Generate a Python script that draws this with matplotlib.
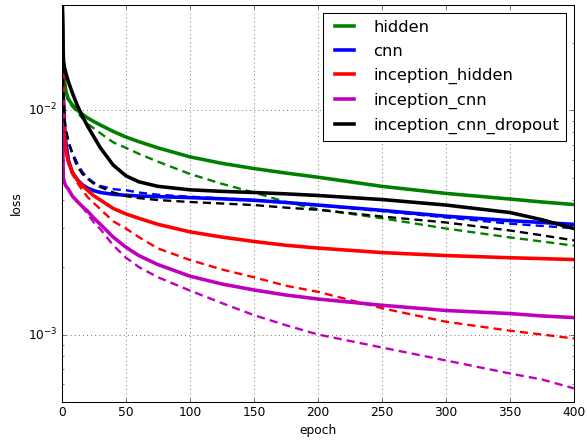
import matplotlib
matplotlib.use('Agg')
import matplotlib.pyplot as plt

plt.style.use('classic')
plt.rcParams['lines.scale_dashes'] = False

epochs = [0, 1, 2, 3, 5, 8, 12, 16, 20, 25, 30, 40, 50, 60, 75, 100,
          125, 150, 175, 200, 250, 300, 350, 375, 400]

# training loss (solid)
hidden_train = [3.5e-2, 1.8e-2, 1.35e-2, 1.22e-2, 1.12e-2, 1.06e-2, 1.0e-2, 9.6e-3,
                9.25e-3, 8.9e-3, 8.6e-3, 8.05e-3, 7.6e-3, 7.25e-3, 6.8e-3, 6.2e-3,
                5.8e-3, 5.5e-3, 5.25e-3, 5.03e-3, 4.58e-3, 4.26e-3, 4.02e-3, 3.9e-3, 3.8e-3]
cnn_train = [3.5e-2, 1.2e-2, 8.5e-3, 7.2e-3, 6.0e-3, 5.3e-3, 4.9e-3, 4.65e-3,
             4.5e-3, 4.38e-3, 4.3e-3, 4.22e-3, 4.18e-3, 4.15e-3, 4.12e-3, 4.08e-3,
             4.03e-3, 3.97e-3, 3.88e-3, 3.78e-3, 3.58e-3, 3.37e-3, 3.22e-3, 3.16e-3, 3.1e-3]
inc_hidden_train = [3.5e-2, 1.1e-2, 7.8e-3, 6.6e-3, 5.9e-3, 5.3e-3, 4.9e-3, 4.6e-3,
                    4.4e-3, 4.15e-3, 3.98e-3, 3.65e-3, 3.45e-3, 3.3e-3, 3.1e-3, 2.87e-3,
                    2.72e-3, 2.6e-3, 2.5e-3, 2.43e-3, 2.32e-3, 2.25e-3, 2.2e-3, 2.18e-3, 2.16e-3]
inc_cnn_train = [1.2e-2, 5.0e-3, 4.75e-3, 4.6e-3, 4.45e-3, 4.15e-3, 3.92e-3, 3.72e-3,
                 3.55e-3, 3.3e-3, 3.1e-3, 2.72e-3, 2.45e-3, 2.25e-3, 2.05e-3, 1.82e-3,
                 1.68e-3, 1.58e-3, 1.5e-3, 1.44e-3, 1.35e-3, 1.28e-3, 1.24e-3, 1.21e-3, 1.19e-3]
inc_cnn_drop_train = [3.5e-2, 1.65e-2, 1.55e-2, 1.47e-2, 1.34e-2, 1.2e-2, 1.05e-2, 9.4e-3,
                      8.5e-3, 7.6e-3, 6.8e-3, 5.7e-3, 5.1e-3, 4.8e-3, 4.58e-3, 4.42e-3,
                      4.35e-3, 4.3e-3, 4.24e-3, 4.17e-3, 4.0e-3, 3.78e-3, 3.5e-3, 3.25e-3, 2.97e-3]

# validation loss (dashed)
hidden_val = [3.5e-2, 1.7e-2, 1.3e-2, 1.2e-2, 1.1e-2, 1.04e-2, 9.8e-3, 9.2e-3,
              8.7e-3, 8.3e-3, 7.9e-3, 7.2e-3, 6.8e-3, 6.4e-3, 5.9e-3, 5.2e-3,
              4.7e-3, 4.3e-3, 3.9e-3, 3.62e-3, 3.3e-3, 2.97e-3, 2.71e-3, 2.6e-3, 2.49e-3]
cnn_val = [3.5e-2, 1.2e-2, 9.0e-3, 8.0e-3, 7.2e-3, 6.5e-3, 5.8e-3, 5.3e-3,
           5.0e-3, 4.75e-3, 4.6e-3, 4.45e-3, 4.4e-3, 4.3e-3, 4.2e-3, 4.12e-3,
           4.05e-3, 3.98e-3, 3.88e-3, 3.77e-3, 3.55e-3, 3.33e-3, 3.12e-3, 3.05e-3, 2.98e-3]
inc_hidden_val = [3.5e-2, 1.0e-2, 7.5e-3, 6.5e-3, 5.8e-3, 5.2e-3, 4.75e-3, 4.4e-3,
                  4.1e-3, 3.85e-3, 3.62e-3, 3.2e-3, 2.97e-3, 2.72e-3, 2.42e-3, 2.15e-3,
                  1.95e-3, 1.8e-3, 1.65e-3, 1.55e-3, 1.31e-3, 1.14e-3, 1.04e-3, 1.0e-3, 9.6e-4]
inc_cnn_val = [1.2e-2, 5.0e-3, 4.75e-3, 4.6e-3, 4.45e-3, 4.15e-3, 3.92e-3, 3.7e-3,
               3.45e-3, 3.15e-3, 2.95e-3, 2.5e-3, 2.2e-3, 2.0e-3, 1.8e-3, 1.57e-3,
               1.38e-3, 1.22e-3, 1.1e-3, 1.0e-3, 8.75e-4, 7.66e-4, 6.7e-4, 6.3e-4, 5.75e-4]
inc_cnn_drop_val = [3.5e-2, 1.3e-2, 9.0e-3, 8.3e-3, 7.3e-3, 6.4e-3, 5.6e-3, 5.2e-3,
                    4.95e-3, 4.7e-3, 4.55e-3, 4.3e-3, 4.15e-3, 4.06e-3, 3.98e-3, 3.9e-3,
                    3.84e-3, 3.78e-3, 3.68e-3, 3.6e-3, 3.36e-3, 3.16e-3, 2.91e-3, 2.77e-3, 2.63e-3]

labels = ['hidden', 'cnn', 'inception_hidden', 'inception_cnn', 'inception_cnn_dropout']
colors = ['g', 'b', 'r', 'm', 'k']
train = [hidden_train, cnn_train, inc_hidden_train, inc_cnn_train, inc_cnn_drop_train]
val = [hidden_val, cnn_val, inc_hidden_val, inc_cnn_val, inc_cnn_drop_val]

fig = plt.figure(figsize=(587 / 73.5, 443 / 73.5), dpi=73.5)
ax = fig.add_axes([62 / 587, 1 - 402 / 443, 512 / 587, 397 / 443])

for lab, c, tr, va in zip(labels, colors, train, val):
    ax.plot(epochs, tr, color=c, lw=3.5, label=lab)
    ax.plot(epochs, va, color=c, lw=2.3, ls='--', dashes=(8, 5))

ax.set_yscale('log')
ax.set_xlim(0, 400)
ax.set_ylim(5e-4, 2.95e-2)
ax.set_xlabel('epoch')
ax.set_ylabel('loss')
ax.grid(True)
ax.legend(loc='upper right', fontsize=16, labelspacing=0.55, handlelength=1.75,
          handletextpad=0.9)

fig.savefig('out.png', dpi=73.5)
